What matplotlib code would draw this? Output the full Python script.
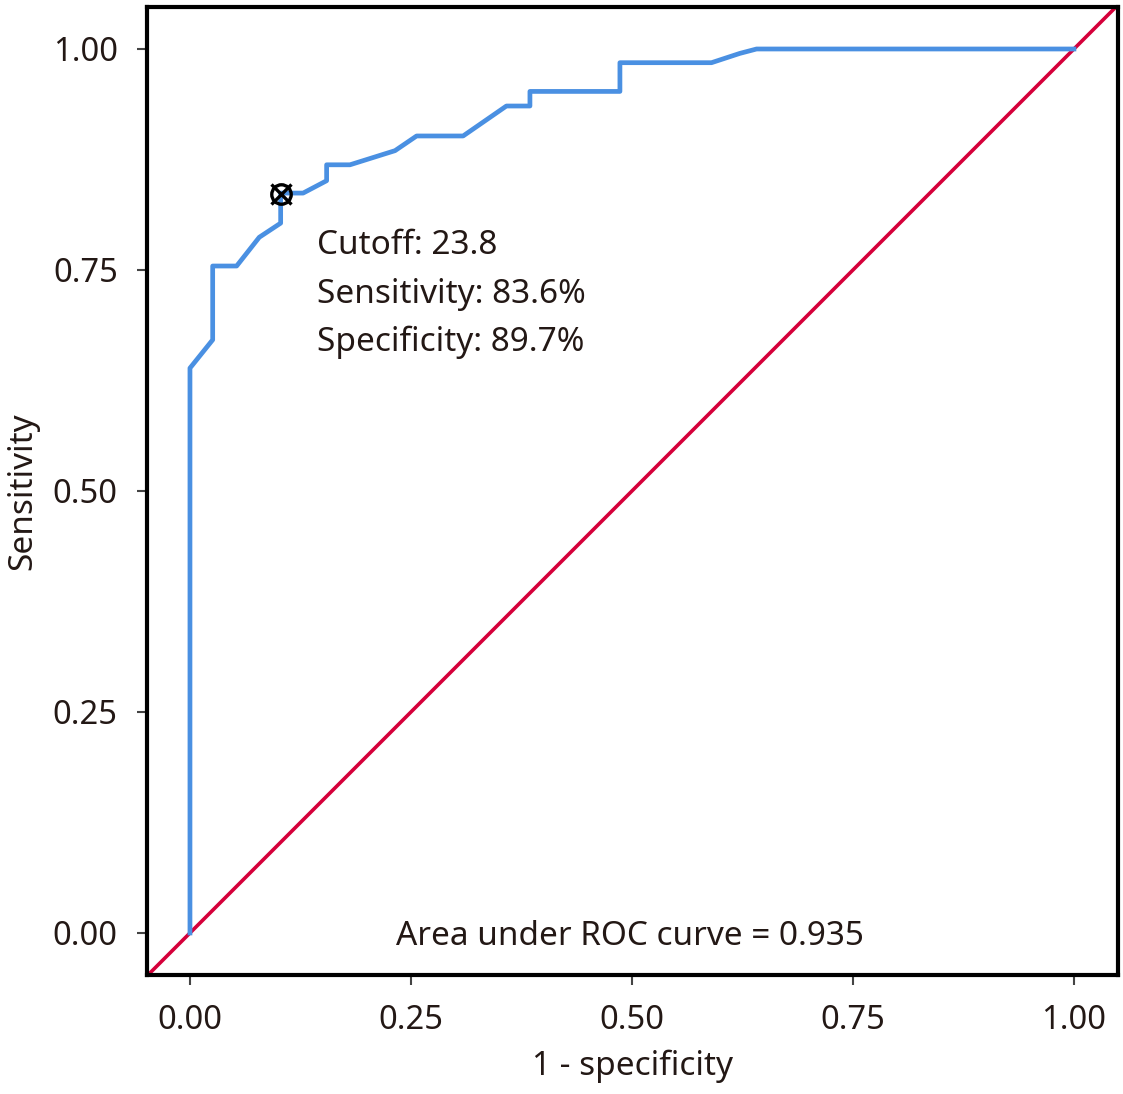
import matplotlib
matplotlib.use("Agg")
import matplotlib.pyplot as plt

# ROC curve points (1 - specificity, sensitivity)
fpr = [0.0, 0.0, 0.0257, 0.0257, 0.0528, 0.0784, 0.1026, 0.1026, 0.128, 0.1546,
       0.1546, 0.181, 0.232, 0.2564, 0.309, 0.358, 0.3846, 0.3846, 0.4864, 0.4864,
       0.590, 0.622, 0.641, 1.0]
tpr = [0.0, 0.639, 0.671, 0.7545, 0.7545, 0.787, 0.803, 0.837, 0.837, 0.851,
       0.869, 0.869, 0.885, 0.9016, 0.9016, 0.9355, 0.9355, 0.952, 0.952, 0.9845,
       0.9845, 0.995, 1.0, 1.0]

cut_x, cut_y = 0.1026, 0.836
info_lines = ["Cutoff: 23.8", "Sensitivity: 83.6%", "Specificity: 89.7%"]
auc_text = "Area under ROC curve = 0.935"
ticks = [0.0, 0.25, 0.5, 0.75, 1.0]
tick_labels = ["0.00", "0.25", "0.50", "0.75", "1.00"]

plt.rcParams['font.family'] = ['Noto Sans', 'DejaVu Sans']
fig = plt.figure(figsize=(11.23, 10.94), dpi=100)
ax = fig.add_axes([0.1309, 0.1088, 0.8646, 0.8848])

ax.set_xlim(-0.0486, 1.0498)
ax.set_ylim(-0.0475, 1.0475)

# chance line across the whole box
ax.axline((0, 0), (1, 1), color='#d5003a', lw=2.6, zorder=2)
ax.plot(fpr, tpr, color='#4a90e2', lw=3.4, zorder=3)

ax.plot(cut_x, cut_y, 'o', ms=14, mfc='none', mec='black', mew=2.4, zorder=4)
ax.plot(cut_x, cut_y, 'x', ms=14, mec='black', mew=2.4, zorder=4)

txt = dict(fontsize=24, color='#231815')
for i, line in enumerate(info_lines):
    ax.text(0.1437, 0.7775 - i * 0.0548, line, ha='left', va='center', **txt)
ax.text(0.498, -0.004, auc_text, ha='center', va='center', **txt)

ax.set_xticks(ticks)
ax.set_xticklabels(tick_labels)
ax.set_yticks(ticks)
ax.set_yticklabels(tick_labels)
ax.tick_params(labelsize=23.5, labelcolor='#231815', length=7, width=1.5,
               color='#444444', pad=14)

for sp in ax.spines.values():
    sp.set_linewidth(3)
    sp.set_color('black')

ax.set_xlabel("1 - specificity", fontsize=24, color='#231815', labelpad=9)
ax.set_ylabel("Sensitivity", fontsize=24, color='#231815', labelpad=10)

fig.savefig("out.png", dpi=100)
